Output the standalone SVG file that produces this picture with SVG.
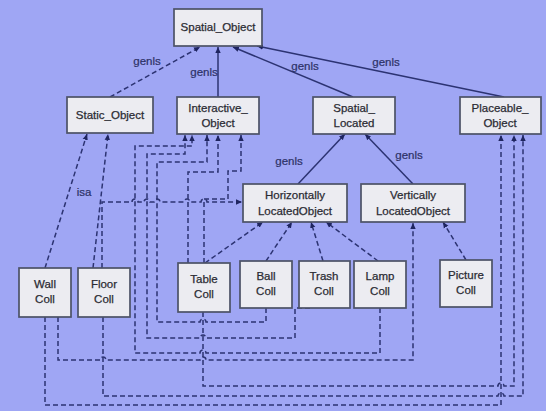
<svg xmlns="http://www.w3.org/2000/svg" width="546" height="411" viewBox="0 0 546 411">
<style>
.bg{fill:#9fa6f4}
.box rect{fill:#ececf1;stroke:#4c5266;stroke-width:1.7}
.box text{font-family:"Liberation Sans",Arial,sans-serif;font-size:11.5px;fill:#2b2b33;stroke:#2b2b33;stroke-width:0.25;text-anchor:middle}
.lbl{font-family:"Liberation Sans",Arial,sans-serif;font-size:11.5px;fill:#2c3166;stroke:#2c3166;stroke-width:0.2;text-anchor:middle}
.s{fill:none;stroke:#2c3372;stroke-width:1.5;marker-end:url(#ar)}
.d{fill:none;stroke:#2c3372;stroke-width:1.5;stroke-dasharray:5,3;marker-end:url(#ar)}
</style>
<defs>
<marker id="ar" viewBox="0 0 10 10" refX="10" refY="5" markerWidth="6" markerHeight="6" markerUnits="userSpaceOnUse" orient="auto">
<path d="M0,0.5 L10,5 L0,9.5 z" fill="#1f2560"/>
</marker>
</defs>
<rect class="bg" x="0" y="0" width="546" height="411"/>

<g id="connectors">
<path class="d" d="M110,97 L200,47"/>
<path class="s" d="M218,97 V47"/>
<path class="s" d="M353,97 L233,47"/>
<path class="s" d="M504,97 L257,46"/>
<path class="s" d="M298,184 L345,134"/>
<path class="s" d="M413,184 L365,134"/>
<path class="d" d="M45,268 L87,134"/>
<path class="d" d="M93,268 L108,134"/>
<path class="d" d="M102,268 V202 H132 a3,3 0 0 1 6,0 H144 a3,3 0 0 1 6,0 H154 a3,3 0 0 1 6,0 H184 a3,3 0 0 1 6,0 H201 a3,3 0 0 1 6,0 H242"/>
<path class="d" d="M380,308 V353 H206 a3,3 0 0 0 -6,0 H135 V146 H192 V135"/>
<path class="d" d="M310,308 H295 V338 H206 a3,3 0 0 0 -6,0 H147 V154 H185 V135"/>
<path class="d" d="M266,308 V322 H206 a3,3 0 0 0 -6,0 H157 V162 H207 V135"/>
<path class="d" d="M188,263 V172 H218 V135"/>
<path class="d" d="M204,263 V199 H228 V171 H241 V135"/>
<path class="d" d="M205,263 L263,222"/>
<path class="d" d="M266,261 L292,222"/>
<path class="d" d="M323,261 L311,222"/>
<path class="d" d="M378,261 L326,222"/>
<path class="d" d="M58,317 V360 H100 a3,3 0 0 1 6,0 H200 a3,3 0 0 1 6,0 H413 V223"/>
<path class="d" d="M466,260 L443,222"/>
<path class="d" d="M203,312 V386 H498 a3,3 0 0 1 6,0 H514 V135"/>
<path class="d" d="M103,317 V396 H498 a3,3 0 0 1 6,0 H523 V135"/>
<path class="d" d="M45,317 V405 H501 V135"/>
</g>

<g id="spatial_object" class="box"><rect x="174" y="9" width="88" height="37"/><text x="218" y="31">Spatial_Object</text></g>
<g id="static_object" class="box"><rect x="67" y="97" width="86" height="36"/><text x="110" y="119">Static_Object</text></g>
<g id="interactive_object" class="box"><rect x="177" y="97" width="82" height="37"/><text x="218" y="112">Interactive_</text><text x="218" y="127">Object</text></g>
<g id="spatial_located" class="box"><rect x="313" y="97" width="82" height="37"/><text x="354" y="112">Spatial_</text><text x="354" y="127">Located</text></g>
<g id="placeable_object" class="box"><rect x="460" y="97" width="81" height="37"/><text x="500" y="112">Placeable_</text><text x="500" y="127">Object</text></g>
<g id="horizontally_located" class="box"><rect x="243" y="184" width="104" height="38"/><text x="295" y="199">Horizontally</text><text x="295" y="215">LocatedObject</text></g>
<g id="vertically_located" class="box"><rect x="361" y="184" width="104" height="38"/><text x="413" y="199">Vertically</text><text x="413" y="215">LocatedObject</text></g>
<g id="wall_coll" class="box"><rect x="19" y="268" width="52" height="49"/><text x="45" y="288">Wall</text><text x="45" y="303">Coll</text></g>
<g id="floor_coll" class="box"><rect x="78" y="268" width="52" height="49"/><text x="104" y="288">Floor</text><text x="104" y="303">Coll</text></g>
<g id="table_coll" class="box"><rect x="178" y="263" width="52" height="49"/><text x="204" y="283">Table</text><text x="204" y="298">Coll</text></g>
<g id="ball_coll" class="box"><rect x="240" y="261" width="52" height="47"/><text x="266" y="280">Ball</text><text x="266" y="295">Coll</text></g>
<g id="trash_coll" class="box"><rect x="299" y="261" width="51" height="47"/><text x="324" y="280">Trash</text><text x="324" y="295">Coll</text></g>
<g id="lamp_coll" class="box"><rect x="354" y="261" width="52" height="47"/><text x="380" y="280">Lamp</text><text x="380" y="295">Coll</text></g>
<g id="picture_coll" class="box"><rect x="440" y="260" width="52" height="47"/><text x="466" y="279">Picture</text><text x="466" y="294">Coll</text></g>

<g id="labels">
<text class="lbl" x="147" y="65">genls</text>
<text class="lbl" x="204" y="76">genls</text>
<text class="lbl" x="305" y="70">genls</text>
<text class="lbl" x="386" y="66">genls</text>
<text class="lbl" x="289" y="165">genls</text>
<text class="lbl" x="409" y="159">genls</text>
<text class="lbl" x="84" y="196">isa</text>
</g>
</svg>
